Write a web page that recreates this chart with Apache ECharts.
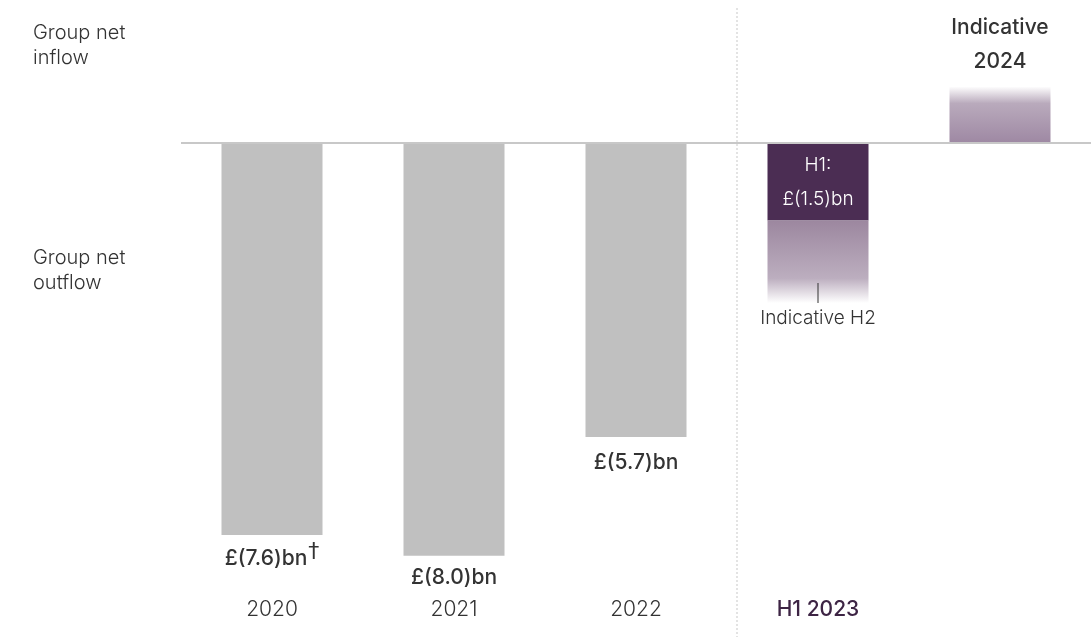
<!DOCTYPE html>
<html>
<head>
<meta charset="utf-8">
<script src="https://cdn.jsdelivr.net/npm/echarts@6/dist/echarts.min.js"></script>
<style>
  html, body { margin: 0; padding: 0; background: #fff; }
  #chart { width: 1091px; height: 637px; }
</style>
</head>
<body>
<div id="chart"></div>
<script>
(function(echarts){
  // categories and values (£bn, outflow negative)
  var categories = ['2020', '2021', '2022', 'H1 2023', '2024'];
  var actualValues = [-7.6, -8.0, -5.7, -1.5, '-'];
  var indicativeValues = ['-', '-', '-', -1.6, 1.1];
  var actualLabels = ['£(7.6)bn', '£(8.0)bn', '£(5.7)bn', 'H1:\n£(1.5)bn', ''];

  var FONT = 'Inter, Lato, sans-serif';
  var TXT = '#333333';
  var GREY = '#c0c0c0';
  var PURPLE = '#4b2d53';

  var h2Fill = new echarts.graphic.LinearGradient(0, 0, 0, 1, [
    { offset: 0, color: '#9c879f' },
    { offset: 0.7, color: '#bcaebf' },
    { offset: 1, color: '#ffffff' }
  ]);
  var y24Fill = new echarts.graphic.LinearGradient(0, 0, 0, 1, [
    { offset: 0, color: '#ffffff' },
    { offset: 0.3, color: '#b9aabc' },
    { offset: 1, color: '#9e88a3' }
  ]);

  // actual bars
  var labelDist = [6, 11, 15];
  var actualData = actualValues.map(function(v, i){
    var item = { value: v, itemStyle: { color: i === 3 ? PURPLE : GREY } };
    if (i === 3) {
      item.label = {
        show: true, position: 'inside', color: '#fff',
        fontSize: 19, lineHeight: 34, fontWeight: 300, fontFamily: FONT,
        formatter: actualLabels[i]
      };
    } else if (i < 3) {
      item.label = {
        show: true, position: 'bottom', distance: labelDist[i],
        formatter: i === 0 ? '{a|' + actualLabels[i] + '}{d|†}' : '{a|' + actualLabels[i] + '}'
      };
    }
    return item;
  });

  // indicative bars
  var indicativeData = indicativeValues.map(function(v, i){
    var item = { value: v };
    if (i === 3) {
      item.itemStyle = { color: h2Fill };
      item.label = {
        show: true, position: 'bottom', distance: -20,
        formatter: '{t|}\n{s|Indicative H2}',
        rich: {
          t: { width: 1, height: 20, backgroundColor: '#333' },
          s: { fontSize: 19, fontWeight: 300, color: TXT, fontFamily: FONT, lineHeight: 24, padding: [6, 0, 0, 0] }
        }
      };
    } else if (i === 4) {
      item.itemStyle = { color: y24Fill };
      item.label = {
        show: true, position: 'top', distance: 8,
        formatter: 'Indicative\n' + categories[i],
        fontSize: 21, lineHeight: 34, color: TXT, fontWeight: 500, fontFamily: FONT
      };
    }
    return item;
  });

  var option = {
    animation: false,
    backgroundColor: '#fff',
    textStyle: { fontFamily: FONT },
    grid: { left: 181, right: -5, top: 40, bottom: 40 },
    xAxis: {
      type: 'category',
      data: categories,
      axisLine: { show: false },
      axisTick: { show: false },
      axisLabel: {
        margin: 2,
        fontSize: 21,
        fontWeight: 300,
        fontFamily: FONT,
        color: TXT,
        formatter: function(v, i){
          if (i === 4) return '';
          if (i === 3) return '{h|' + v + '}';
          return v;
        },
        rich: {
          h: { fontSize: 21, color: '#3d2444', fontWeight: 500, fontFamily: FONT }
        }
      }
    },
    yAxis: {
      type: 'value',
      min: -8.8,
      max: 2,
      show: false,
      splitLine: { show: false }
    },
    series: [
      {
        name: 'Actual',
        type: 'bar',
        stack: 'total',
        barWidth: 101,
        data: actualData,
        label: {
          rich: {
            a: { fontSize: 21, fontWeight: 500, color: TXT, fontFamily: FONT },
            d: { fontSize: 22, fontWeight: 400, color: TXT, fontFamily: 'DejaVu Sans', verticalAlign: 'top', padding: [0, 0, 14, 1] }
          }
        },
        markLine: {
          silent: true,
          symbol: 'none',
          label: { show: false },
          lineStyle: { color: '#c8c8c8', width: 2, type: 'solid' },
          data: [{ yAxis: 0 }]
        }
      },
      {
        name: 'Indicative',
        type: 'bar',
        stack: 'total',
        barWidth: 101,
        data: indicativeData
      }
    ],
    graphic: [
      {
        type: 'line', silent: true,
        shape: { x1: 737, y1: 8, x2: 737, y2: 637 },
        style: { stroke: '#c8c8c8', lineWidth: 1, lineDash: [2, 2] }
      },
      {
        type: 'text', left: 33, top: 20,
        style: { text: 'Group net\ninflow', fontSize: 20, fontWeight: 300, lineHeight: 25, fill: TXT, fontFamily: FONT }
      },
      {
        type: 'text', left: 33, top: 245,
        style: { text: 'Group net\noutflow', fontSize: 20, fontWeight: 300, lineHeight: 25, fill: TXT, fontFamily: FONT }
      }
    ]
  };

  var myChart = echarts.init(document.getElementById('chart'));
  myChart.setOption(option);
})(echarts);
</script>
</body>
</html>
